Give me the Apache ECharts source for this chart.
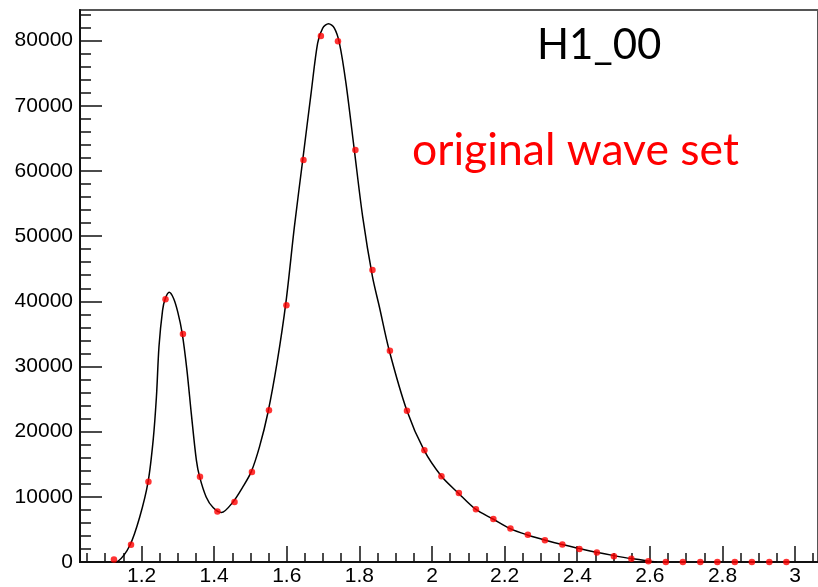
<!DOCTYPE html>
<html><head><meta charset="utf-8">
<script src="https://cdn.jsdelivr.net/npm/echarts@6/dist/echarts.min.js"></script>
<style>html,body{margin:0;padding:0;background:#fff}#c{width:818px;height:587px}</style>
</head><body><div id="c"></div>
<script>
// Data points (bin centres and values)
const pointX = [1.124, 1.171, 1.219, 1.266, 1.314, 1.361, 1.409, 1.456, 1.504, 1.551,
  1.599, 1.646, 1.694, 1.741, 1.789, 1.836, 1.884, 1.931, 1.979, 2.026,
  2.074, 2.121, 2.169, 2.216, 2.264, 2.311, 2.359, 2.406, 2.454, 2.501,
  2.549, 2.596, 2.644, 2.691, 2.739, 2.786, 2.834, 2.881, 2.929, 2.976];
const pointY = [400, 2650, 12300, 40300, 35000, 13100, 7750, 9200, 13800, 23300,
  39400, 61700, 80700, 79900, 63200, 44800, 32400, 23200, 17150, 13150,
  10600, 8100, 6600, 5130, 4180, 3350, 2690, 2000, 1460, 900,
  480, 130, 0, 0, 0, 0, 0, 0, 0, 0];
// Fitted curve
const curveX = [1.120, 1.136, 1.168, 1.195, 1.218, 1.232, 1.241, 1.248, 1.258, 1.265,
  1.276, 1.288, 1.300, 1.312, 1.325, 1.337, 1.351, 1.360, 1.378, 1.397,
  1.420, 1.452, 1.479, 1.502, 1.525, 1.548, 1.573, 1.598, 1.621, 1.644,
  1.667, 1.685, 1.699, 1.715, 1.731, 1.745, 1.763, 1.786, 1.809, 1.836,
  1.855, 1.882, 1.931, 1.978, 2.026, 2.072, 2.120, 2.168, 2.215, 2.263,
  2.310, 2.358, 2.406, 2.453, 2.501, 2.549, 2.596, 2.620];
const curveY = [0, 150, 2570, 6900, 12290, 18700, 25350, 33030, 38660, 40350,
  41380, 40460, 38300, 35080, 29450, 22800, 15620, 13060, 9985, 8350,
  7590, 9217, 11520, 13825, 17700, 22900, 30500, 40000, 51460, 61700,
  71950, 79630, 81930, 82600, 81930, 79630, 73490, 63240, 53000, 43780,
  39170, 32500, 23200, 17160, 13160, 10600, 8100, 6600, 5130, 4150,
  3380, 2670, 2060, 1490, 980, 520, 150, 0];
// Tick labels
const xMajorTicks = [1.2, 1.4, 1.6, 1.8, 2.0, 2.2, 2.4, 2.6, 2.8, 3.0];
const xMinorTicks = [1.05, 1.1, 1.15, 1.25, 1.3, 1.35, 1.45, 1.5, 1.55, 1.65, 1.7, 1.75,
  1.85, 1.9, 1.95, 2.05, 2.1, 2.15, 2.25, 2.3, 2.35, 2.45, 2.5, 2.55, 2.65, 2.7, 2.75,
  2.85, 2.9, 2.95, 3.05];
const yMajorTicks = [0, 10000, 20000, 30000, 40000, 50000, 60000, 70000, 80000];
const yMinorTicks = [2000, 4000, 6000, 8000, 12000, 14000, 16000, 18000, 22000, 24000, 26000, 28000,
  32000, 34000, 36000, 38000, 42000, 44000, 46000, 48000, 52000, 54000, 56000, 58000,
  62000, 64000, 66000, 68000, 72000, 74000, 76000, 78000, 82000, 84000];
const histTitle = 'H1_00';
const note = 'original wave set';

const X_MIN = 1.0305, X_MAX = 3.0631, Y_MIN = 0, Y_MAX = 84700;
const labelFont = {fontFamily: '"Liberation Sans", Arial, sans-serif', fontSize: 21, color: '#000'};

const chart = echarts.init(document.getElementById('c'), null, {renderer: 'canvas'});
function xAx(major) {
  return {
    type: 'value', min: X_MIN, max: X_MAX, position: 'bottom', offset: 0,
    axisLine: {show: major, onZero: false, lineStyle: {color: '#111', width: 2}},
    splitLine: {show: false},
    axisTick: {show: true, inside: true, length: major ? 16 : 9,
      lineStyle: {color: '#111', width: 1.5},
      customValues: major ? xMajorTicks : xMinorTicks},
    axisLabel: major ? Object.assign({show: true, margin: 4, customValues: xMajorTicks,
      formatter: v => String(Math.round(v * 10) / 10)}, labelFont) : {show: false}
  };
}
function yAx(major) {
  return {
    type: 'value', min: Y_MIN, max: Y_MAX, position: 'left', offset: 0,
    axisLine: {show: major, onZero: false, lineStyle: {color: '#111', width: 2}},
    splitLine: {show: false},
    axisTick: {show: true, inside: true, length: major ? 22 : 11,
      lineStyle: {color: '#111', width: 1.5},
      customValues: major ? yMajorTicks : yMinorTicks},
    axisLabel: major ? Object.assign({show: true, margin: 7, customValues: yMajorTicks,
      formatter: v => String(v)}, labelFont) : {show: false}
  };
}
chart.setOption({
  animation: false,
  backgroundColor: '#fff',
  grid: {left: 80, top: 10, right: -2, bottom: 25, show: true, borderColor: '#555', borderWidth: 2, backgroundColor: 'transparent'},
  xAxis: [xAx(true), xAx(false)],
  yAxis: [yAx(true), yAx(false)],
  series: [
    {type: 'line', xAxisIndex: 0, yAxisIndex: 0, data: curveX.map((x, i) => [x, curveY[i]]),
      smooth: 0.3, showSymbol: false, lineStyle: {color: '#000', width: 1.5}, z: 2},
    {type: 'scatter', xAxisIndex: 0, yAxisIndex: 0, data: pointX.map((x, i) => [x, pointY[i]]),
      symbol: 'circle', symbolSize: 6.5, itemStyle: {color: '#f00'}, z: 3}
  ],
  graphic: [
    {type: 'text', left: 537, top: 24, style: {text: histTitle, fill: '#000',
      font: '42px Lato, "Open Sans", sans-serif'}},
    {type: 'text', left: 412, top: 128, style: {text: note, fill: '#f00',
      font: '44.5px Lato, "Open Sans", sans-serif'}}
  ]
});
</script></body></html>
